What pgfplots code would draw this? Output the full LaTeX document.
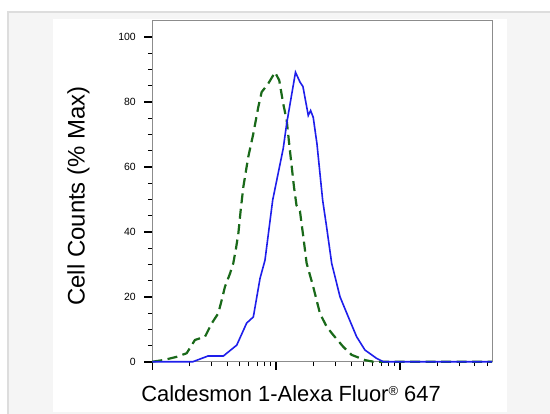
\documentclass[border=0pt]{standalone}
\usepackage{fontspec}
\setmainfont{Liberation Sans}
\usepackage{pgfplots}
\usepackage{pgfplotstable}
\pgfplotsset{compat=1.18}

\definecolor{panelgray}{HTML}{F5F5F5}
\definecolor{bordergray}{HTML}{DDDDDD}
\definecolor{framegray}{HTML}{8C8C8C}
\definecolor{isoline}{RGB}{25,105,25}
\definecolor{stainline}{RGB}{30,30,235}

% x = log10 of fluorescence, y = % of max
\pgfplotstableread{
lx y
1.000 0
1.328 0
1.449 1.75
1.573 1.75
1.681 5.1
1.761 11.9
1.815 13.8
1.869 25.7
1.909 31.3
1.971 49.8
2.056 65.7
2.084 73.4
2.155 89.2
2.191 86.2
2.215 84.8
2.258 75.9
2.277 77.4
2.298 75.3
2.328 67.2
2.374 49.8
2.406 41.5
2.447 30.3
2.514 20.0
2.581 13.8
2.648 7.7
2.715 3.6
2.810 1.0
2.863 0
3.740 0
}\stain

\pgfplotstableread{
lx y
1.000 0
1.089 0.5
1.197 1.5
1.277 2.6
1.344 6.7
1.425 7.7
1.479 11.8
1.532 14.9
1.560 19.0
1.586 23.1
1.627 27.2
1.653 30.3
1.675 34.9
1.694 39.5
1.713 46.7
1.734 53.8
1.774 63.1
1.815 70.3
1.855 78.5
1.882 83.1
1.935 85.7
1.990 89.2
2.024 86.7
2.056 79.5
2.084 74.4
2.110 65.1
2.143 53.8
2.163 48.2
2.191 46.4
2.218 38.5
2.245 30.3
2.298 23.1
2.352 14.9
2.406 10.8
2.460 8.2
2.540 4.6
2.608 2.1
2.715 0.5
2.782 0
3.740 0
}\isotype

\begin{document}
\begin{tikzpicture}
\path[use as bounding box] (0bp,0bp) rectangle (550bp,414bp);
\fill[white] (0bp,0bp) rectangle (550bp,414bp);
\fill[panelgray] (7bp,0bp) rectangle (550bp,402.5bp);
\draw[bordergray, line width=1.5bp] (7.75bp,0bp) -- (7.75bp,402bp) -- (550bp,402bp);
\fill[white] (52.5bp,2.3bp) rectangle (506.7bp,395bp);

\begin{axis}[
  at={(152.3bp,52.3bp)}, anchor=south west,
  scale only axis, width=339.7bp, height=340.7bp,
  xmin=1, xmax=3.74, ymin=0, ymax=105,
  clip=false,
  axis line style={framegray, line width=1bp},
  xtick={1,2,3}, xticklabels={},
  minor xtick={1.301,1.477,1.602,1.699,1.778,1.845,1.903,1.954,
               2.301,2.477,2.602,2.699,2.778,2.845,2.903,2.954,
               3.301,3.477,3.602,3.699},
  ytick={0,20,...,100}, minor y tick num=3,
  xtick pos=bottom, ytick pos=left,
  tick align=outside,
  major tick length=8bp, minor tick length=4.5bp,
  every major tick/.style={black, line width=1.6bp},
  every minor tick/.style={black, line width=0.8bp},
  /pgf/number format/assume math mode=true,
  yticklabel style={font=\fontsize{10.5}{12}\selectfont, text=black, xshift=-5bp},
]
  \addplot[isoline, line width=2.2bp, dash pattern=on 10bp off 5.5bp] table[x=lx,y=y] {\isotype};
  \addplot[stainline, line width=1.6bp] table[x=lx,y=y] {\stain};
\end{axis}

\node[anchor=base] at (291bp,12.3bp) {\fontsize{22}{24}\selectfont Caldesmon 1-Alexa Fluor{\fontsize{13}{13}\selectfont\raisebox{6.5bp}{®}} 647};
\node[rotate=90] at (78.5bp,218bp) {\fontsize{24}{26}\selectfont Cell Counts (\% Max)};
\end{tikzpicture}
\end{document}
